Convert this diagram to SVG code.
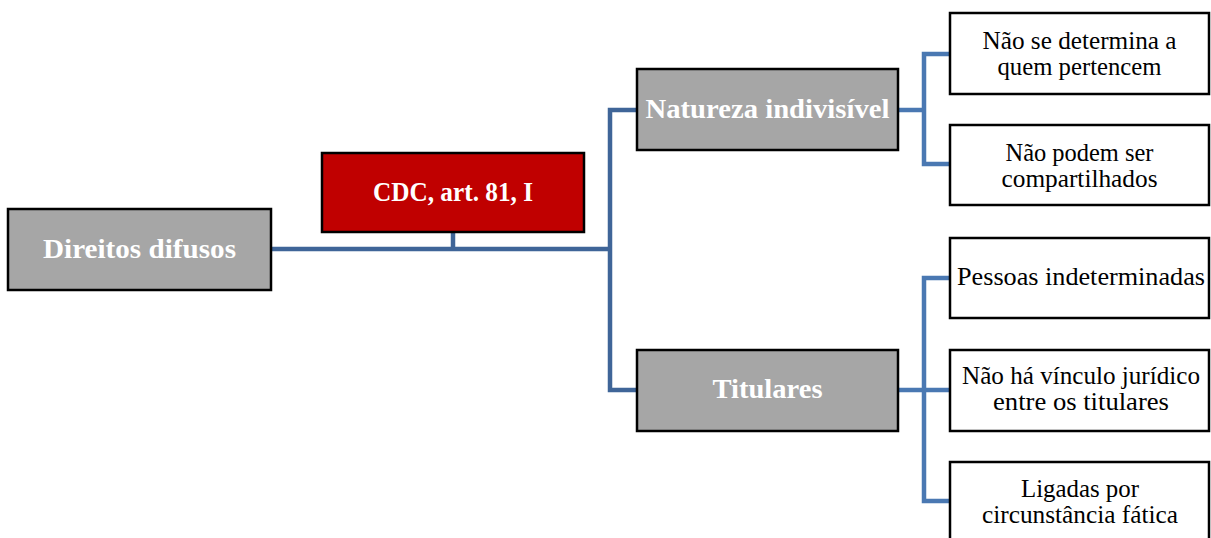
<svg xmlns="http://www.w3.org/2000/svg" width="1211" height="538" viewBox="0 0 1211 538">
<style>
.box{stroke:#000;stroke-width:2.5}
.grey{fill:#a6a6a6}
.red{fill:#c00000}
.white{fill:#fff}
.lbl{font-family:"Liberation Serif","Times New Roman",serif;font-weight:bold;font-size:27px;fill:#fff;text-anchor:middle}
.txt{font-family:"Liberation Serif","Times New Roman",serif;font-size:25px;fill:#000;text-anchor:middle}
.c1{fill:none;stroke:#3f6598;stroke-width:4.5}
.c2{fill:none;stroke:#4a78b2;stroke-width:4.5}
</style>
<rect width="1211" height="538" fill="#fff"/>
<g id="connectors">
<path class="c1" d="M271 249 H610"/>
<path class="c1" d="M453 232 V249"/>
<path class="c1" d="M637 110 H610 V390 H637"/>
<path class="c2" d="M898 110 H924"/>
<path class="c2" d="M950 54 H924 V164 H950"/>
<path class="c2" d="M898 390 H950"/>
<path class="c2" d="M950 278 H924 V501 H950"/>
</g>
<g id="n-direitos">
<rect class="box grey" x="8" y="209" width="263" height="81"/>
<text class="lbl" x="139.5" y="258" textLength="193" lengthAdjust="spacingAndGlyphs">Direitos difusos</text>
</g>
<g id="n-cdc">
<rect class="box red" x="322" y="153" width="262" height="79"/>
<text class="lbl" x="453" y="201" textLength="160" lengthAdjust="spacingAndGlyphs">CDC, art. 81, I</text>
</g>
<g id="n-natureza">
<rect class="box grey" x="637" y="69" width="261" height="81"/>
<text class="lbl" x="767.5" y="118" textLength="244" lengthAdjust="spacingAndGlyphs">Natureza indivisível</text>
</g>
<g id="n-titulares">
<rect class="box grey" x="637" y="350" width="261" height="81"/>
<text class="lbl" x="767.5" y="398" textLength="110" lengthAdjust="spacingAndGlyphs">Titulares</text>
</g>
<g id="n-nao-se-determina">
<rect class="box white" x="950" y="13" width="259" height="81"/>
<text class="txt" x="1079.5" y="49" textLength="194" lengthAdjust="spacingAndGlyphs">Não se determina a</text>
<text class="txt" x="1079.5" y="75" textLength="164" lengthAdjust="spacingAndGlyphs">quem pertencem</text>
</g>
<g id="n-nao-podem">
<rect class="box white" x="950" y="125" width="259" height="80"/>
<text class="txt" x="1079.5" y="161" textLength="148" lengthAdjust="spacingAndGlyphs">Não podem ser</text>
<text class="txt" x="1079.5" y="187" textLength="156" lengthAdjust="spacingAndGlyphs">compartilhados</text>
</g>
<g id="n-pessoas">
<rect class="box white" x="950" y="238" width="259" height="80"/>
<text class="txt" x="1081" y="285" textLength="248" lengthAdjust="spacingAndGlyphs">Pessoas indeterminadas</text>
</g>
<g id="n-vinculo">
<rect class="box white" x="950" y="350" width="259" height="81"/>
<text class="txt" x="1081" y="384" textLength="238" lengthAdjust="spacingAndGlyphs">Não há vínculo jurídico</text>
<text class="txt" x="1081" y="410" textLength="176" lengthAdjust="spacingAndGlyphs">entre os titulares</text>
</g>
<g id="n-ligadas">
<rect class="box white" x="950" y="462" width="259" height="90"/>
<text class="txt" x="1080" y="497" textLength="118" lengthAdjust="spacingAndGlyphs">Ligadas por</text>
<text class="txt" x="1080" y="523" textLength="196" lengthAdjust="spacingAndGlyphs">circunstância fática</text>
</g>
</svg>
